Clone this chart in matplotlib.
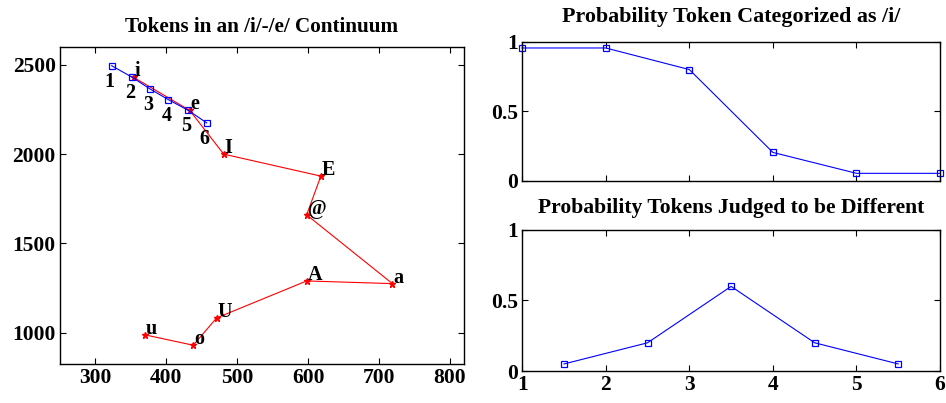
import matplotlib
matplotlib.use('Agg')
import matplotlib.pyplot as plt

plt.rcParams['font.family'] = ['Liberation Serif', 'DejaVu Serif']

# continuum tokens (blue squares)
cont_x = [323, 352, 377, 403, 431, 457]
cont_y = [2495, 2430, 2365, 2305, 2245, 2175]
cont_labels = ['1', '2', '3', '4', '5', '6']

# vowel tokens (red stars), in drawing order
vow_x = [354, 433, 481, 618, 598, 719, 598, 471, 438, 370]
vow_y = [2430, 2245, 2000, 1877, 1660, 1275, 1290, 1083, 930, 988]
vow_labels = ['i', 'e', 'I', 'E', '@', 'a', 'A', 'U', 'o', 'u']

# identification and discrimination
ident_x = [1, 2, 3, 4, 5, 6]
ident_y = [0.955, 0.955, 0.80, 0.205, 0.055, 0.055]
disc_x = [1.5, 2.5, 3.5, 4.5, 5.5]
disc_y = [0.05, 0.20, 0.60, 0.20, 0.05]

fig = plt.figure(figsize=(9.46, 4.03), dpi=100)

def style(ax):
    ax.tick_params(direction='in', top=True, right=True, length=4, width=0.8,
                   labelsize=15.5, pad=3)
    for lab in ax.get_xticklabels() + ax.get_yticklabels():
        lab.set_fontweight('bold')
    for s in ax.spines.values():
        s.set_linewidth(1.0)

ax = fig.add_axes([0.0634, 0.0968, 0.4271, 0.7866])
ax.plot(vow_x, vow_y, color='red', lw=0.8, marker='*', ms=5, zorder=2)
ax.plot(cont_x, cont_y, color='blue', lw=0.8, marker='s', ms=4.3,
        mfc='none', mew=0.9, zorder=3)
for x, y, t in zip(cont_x, cont_y, cont_labels):
    ax.annotate(t, (x, y), xytext=(-7, -6), textcoords='offset pixels',
                ha='left', va='top', fontsize=14.5, fontweight='bold')
for x, y, t in zip(vow_x, vow_y, vow_labels):
    ax.annotate(t, (x, y), xytext=(1, 1), textcoords='offset pixels',
                ha='left', va='baseline', fontsize=14.5, fontweight='bold')
ax.set_xlim(250, 820)
ax.set_ylim(825, 2600)
ax.set_xticks([300, 400, 500, 600, 700, 800])
ax.set_yticks([1000, 1500, 2000, 2500])
style(ax)
ax.set_title('Tokens in an /i/-/e/ Continuum', fontsize=15.2, fontweight='bold',
             pad=11)

ax2 = fig.add_axes([0.552, 0.5509, 0.4417, 0.3456])
ax2.plot(ident_x, ident_y, color='blue', lw=0.8, marker='s', ms=4.3,
         mfc='none', mew=0.9, clip_on=False)
ax2.set_xlim(1, 6)
ax2.set_ylim(0, 1)
ax2.set_xticks([1, 2, 3, 4, 5, 6])
ax2.set_xticklabels([])
ax2.set_yticks([0, 0.5, 1])
ax2.set_yticklabels(['0', '0.5', '1'])
style(ax2)
ax2.set_title('Probability Token Categorized as /i/', fontsize=15.8,
              fontweight='bold', pad=14)

ax3 = fig.add_axes([0.552, 0.0794, 0.4417, 0.3499])
ax3.plot(disc_x, disc_y, color='blue', lw=0.8, marker='s', ms=4.3,
         mfc='none', mew=0.9)
ax3.set_xlim(1, 6)
ax3.set_ylim(0, 1)
ax3.set_xticks([1, 2, 3, 4, 5, 6])
ax3.set_yticks([0, 0.5, 1])
ax3.set_yticklabels(['0', '0.5', '1'])
style(ax3)
ax3.set_title('Probability Tokens Judged to be Different', fontsize=15.6,
              fontweight='bold', pad=12)

fig.savefig('out.png', dpi=100)
